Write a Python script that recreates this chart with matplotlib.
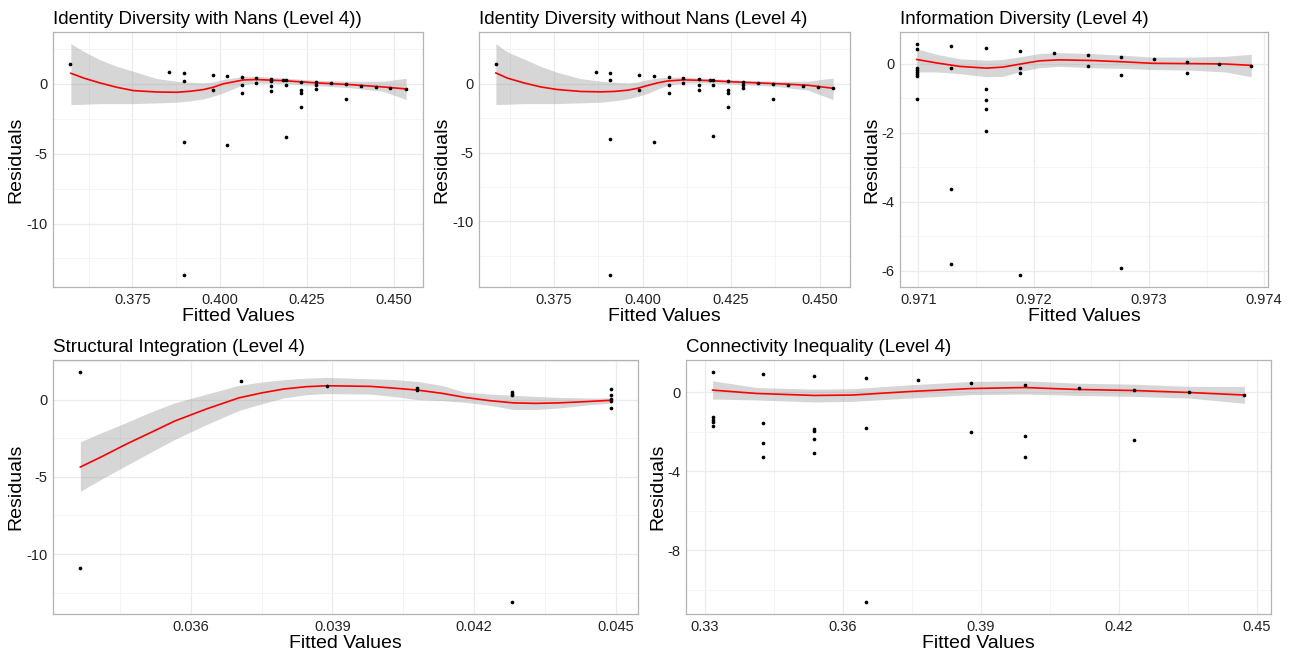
import numpy as np
import matplotlib
matplotlib.use("Agg")
import matplotlib.pyplot as plt

plt.rcParams['font.family'] = ['Liberation Sans', 'DejaVu Sans']

# ---- Identity Diversity with Nans (Level 4)) ----
id1_x = [0.3571, 0.3856, 0.3897, 0.3897, 0.3897, 0.3897, 0.3980, 0.3980, 0.4022, 0.4022,
         0.4064, 0.4064, 0.4064, 0.4106, 0.4106, 0.4149, 0.4149, 0.4149, 0.4149, 0.4182,
         0.4191, 0.4191, 0.4191, 0.4234, 0.4234, 0.4234, 0.4234, 0.4276, 0.4276, 0.4276,
         0.4319, 0.4363, 0.4363, 0.4406, 0.4448, 0.4490, 0.4535]
id1_y = [1.38, 0.81, 0.74, 0.21, -4.17, -13.71, 0.60, -0.45, 0.52, -4.38,
         0.45, -0.10, -0.67, 0.38, 0.05, 0.31, 0.21, -0.14, -0.50, 0.24,
         0.24, -0.10, -3.79, 0.14, -0.43, -0.67, -1.69, 0.12, -0.10, -0.36,
         0.05, -0.05, -1.12, -0.14, -0.21, -0.29, -0.36]
id1_fx = [0.3574, 0.3610, 0.3657, 0.3705, 0.3753, 0.3820, 0.3877, 0.3915, 0.3953, 0.3982,
          0.4010, 0.4039, 0.4068, 0.4106, 0.4182, 0.4278, 0.4373, 0.4469, 0.4535]
id1_fit = [0.74, 0.40, 0.05, -0.26, -0.50, -0.60, -0.62, -0.55, -0.43, -0.26,
           -0.02, 0.12, 0.26, 0.29, 0.21, 0.05, -0.07, -0.24, -0.38]
id1_hi = [2.86, 2.31, 1.71, 1.24, 0.88, 0.36, 0.17, 0.10, 0.05, 0.12,
          0.29, 0.40, 0.52, 0.52, 0.40, 0.24, 0.17, 0.17, 0.38]
id1_lo = [-1.50, -1.48, -1.43, -1.43, -1.43, -1.38, -1.33, -1.24, -1.10, -0.90,
          -0.67, -0.38, -0.07, 0.05, 0.00, -0.14, -0.29, -0.55, -1.14]

# ---- Identity Diversity without Nans (Level 4) ----
id2_x = [0.3586, 0.3868, 0.3908, 0.3908, 0.3908, 0.3908, 0.3990, 0.3990, 0.4032, 0.4032,
         0.4074, 0.4074, 0.4074, 0.4115, 0.4115, 0.4158, 0.4158, 0.4158, 0.4190, 0.4198,
         0.4198, 0.4198, 0.4241, 0.4241, 0.4241, 0.4241, 0.4284, 0.4284, 0.4284, 0.4325,
         0.4369, 0.4369, 0.4410, 0.4453, 0.4495, 0.4538]
id2_y = [1.40, 0.85, 0.77, 0.24, -4.01, -13.91, 0.63, -0.43, 0.53, -4.25,
         0.46, -0.07, -0.65, 0.39, 0.07, 0.34, -0.12, -0.48, 0.29, 0.29,
         -0.07, -3.82, 0.17, -0.43, -0.65, -1.69, 0.12, -0.10, -0.31, 0.07,
         -0.02, -1.09, -0.12, -0.19, -0.27, -0.34]
id2_fx = [0.3586, 0.3618, 0.3665, 0.3712, 0.3759, 0.3825, 0.3882, 0.3920, 0.3958, 0.3986,
          0.4014, 0.4042, 0.4071, 0.4118, 0.4184, 0.4278, 0.4373, 0.4467, 0.4538]
id2_fit = [0.77, 0.40, 0.05, -0.24, -0.43, -0.57, -0.60, -0.57, -0.48, -0.34,
           -0.14, 0.05, 0.19, 0.27, 0.22, 0.10, 0.00, -0.12, -0.34]
id2_hi = [2.90, 2.30, 1.79, 1.25, 0.82, 0.36, 0.17, 0.10, 0.05, 0.12,
          0.29, 0.40, 0.46, 0.48, 0.36, 0.24, 0.17, 0.17, 0.41]
id2_lo = [-1.52, -1.50, -1.45, -1.45, -1.45, -1.40, -1.35, -1.25, -1.11, -0.93,
          -0.72, -0.40, -0.12, 0.05, 0.05, -0.07, -0.19, -0.48, -1.16]

# ---- Information Diversity (Level 4) ----
inf_x = [0.97099, 0.97099, 0.97099, 0.97099, 0.97099, 0.97099, 0.97099, 0.97099,
         0.971287, 0.971287, 0.971287, 0.971287,
         0.971586, 0.971586, 0.971586, 0.971586, 0.971586,
         0.971885, 0.971885, 0.971885, 0.971885,
         0.972178, 0.972471, 0.972471, 0.972761, 0.972761, 0.972761,
         0.973043, 0.973328, 0.973328, 0.973606, 0.973888]
inf_y = [0.58, 0.43, -0.12, -0.17, -0.23, -0.29, -0.35, -1.03,
         0.51, -0.12, -3.63, -5.80,
         0.44, -0.74, -1.04, -1.32, -1.95,
         0.37, -0.14, -0.27, -6.13,
         0.31, 0.24, -0.07, 0.18, -0.34, -5.93,
         0.12, 0.05, -0.27, 0.00, -0.07]
inf_fx = [0.970986, 0.971158, 0.971359, 0.971589, 0.971733, 0.971905, 0.972049,
          0.972221, 0.972509, 0.972796, 0.973026, 0.973371, 0.973658, 0.973888]
inf_fit = [0.12, 0.02, -0.08, -0.13, -0.10, 0.00, 0.08, 0.11, 0.09, 0.05, 0.01, 0.00, -0.01, -0.05]
inf_hi = [0.43, 0.27, 0.14, 0.10, 0.12, 0.21, 0.29, 0.32, 0.29, 0.24, 0.19, 0.19, 0.21, 0.27]
inf_lo = [-0.24, -0.24, -0.29, -0.38, -0.37, -0.21, -0.12, -0.08, -0.12, -0.14, -0.17, -0.19, -0.24, -0.38]

# ---- Structural Integration (Level 4) ----
str_x = [0.033646, 0.033646, 0.037061, 0.038888, 0.040803, 0.040803,
         0.042814, 0.042814, 0.042814, 0.042814,
         0.044912, 0.044912, 0.044912, 0.044912, 0.044912]
str_y = [1.82, -10.90, 1.20, 0.90, 0.75, 0.62,
         0.49, 0.39, 0.28, -13.13,
         0.71, 0.32, 0.04, -0.06, -0.54]
str_fx = [0.033662, 0.034141, 0.034620, 0.035138, 0.035657, 0.036335, 0.037013, 0.037492,
          0.037971, 0.038449, 0.038888, 0.039806, 0.040285, 0.040803, 0.041322, 0.041801,
          0.042319, 0.042838, 0.043316, 0.043795, 0.044354, 0.044912]
str_fit = [-4.36, -3.65, -2.90, -2.15, -1.39, -0.60, 0.11, 0.43, 0.69, 0.84, 0.90,
           0.86, 0.75, 0.62, 0.41, 0.15, -0.06, -0.21, -0.24, -0.21, -0.13, -0.04]
str_hi = [-2.73, -2.10, -1.50, -0.82, -0.21, 0.36, 0.92, 1.14, 1.29, 1.39, 1.44,
          1.35, 1.31, 1.18, 0.92, 0.49, 0.36, 0.28, 0.21, 0.15, 0.11, 0.11]
str_lo = [-5.94, -5.09, -4.29, -3.43, -2.58, -1.61, -0.71, -0.28, 0.11, 0.32, 0.39,
          0.36, 0.21, 0.00, -0.06, -0.17, -0.36, -0.64, -0.64, -0.54, -0.36, -0.21]

# ---- Connectivity Inequality (Level 4) ----
con_x = [0.33167, 0.33167, 0.33167, 0.33167, 0.33167,
         0.34267, 0.34267, 0.34267, 0.34267,
         0.35367, 0.35367, 0.35367, 0.35367, 0.35367,
         0.36492, 0.36492, 0.36492,
         0.37633, 0.38792, 0.38792, 0.39950, 0.39950, 0.39950,
         0.41125, 0.42317, 0.42317, 0.43517, 0.44725]
con_y = [1.04, -1.28, -1.39, -1.51, -1.74,
         0.92, -1.58, -2.58, -3.27,
         0.81, -1.86, -1.95, -2.35, -3.09,
         0.70, -1.81, -10.65,
         0.59, 0.47, -2.01, 0.34, -2.20, -3.27,
         0.22, 0.10, -2.42, -0.02, -0.15]
con_fx = [0.33167, 0.34125, 0.35375, 0.36208, 0.37458, 0.38792, 0.39958,
          0.41125, 0.42317, 0.43517, 0.44725]
con_fit = [0.10, -0.07, -0.17, -0.15, 0.03, 0.18, 0.23, 0.13, 0.08, -0.02, -0.15]
con_hi = [0.57, 0.23, 0.15, 0.17, 0.37, 0.54, 0.57, 0.45, 0.40, 0.29, 0.29]
con_lo = [-0.35, -0.40, -0.50, -0.47, -0.30, -0.13, -0.10, -0.17, -0.22, -0.30, -0.57]

W, H = 1296, 659


def panel(box, title, x, y, fx, fit, lo, hi, xticks, xlabels, yticks, ylabels):
    left, top, right, bottom = box
    ax = fig.add_axes([left / W, 1 - bottom / H, (right - left) / W, (bottom - top) / H])

    # ggplot-style 5% expansion
    allx = list(x) + list(fx)
    ally = list(y) + list(lo) + list(hi)
    dx = (max(allx) - min(allx)) * 0.05
    dy = (max(ally) - min(ally)) * 0.05

    ax.fill_between(fx, lo, hi, color='#999999', alpha=0.4, linewidth=0, zorder=2)
    ax.plot(fx, fit, color='red', lw=1.2, zorder=3, solid_joinstyle='round')
    ax.scatter(x, y, s=7, color='black', linewidths=0, zorder=4)

    ax.set_xticks(xticks)
    ax.set_xticklabels(xlabels)
    ax.set_yticks(yticks)
    ax.set_yticklabels(ylabels)
    xs = xticks[1] - xticks[0]
    ys = yticks[1] - yticks[0]
    ax.set_xticks([t - xs / 2 for t in xticks] + [xticks[-1] + xs / 2], minor=True)
    ax.set_yticks([t - ys / 2 for t in yticks] + [yticks[-1] + ys / 2], minor=True)
    ax.set_xlim(min(allx) - dx, max(allx) + dx)
    ax.set_ylim(min(ally) - dy, max(ally) + dy)

    ax.grid(which='major', color='#EBEBEB', lw=0.9, zorder=0)
    ax.grid(which='minor', color='#F3F3F3', lw=0.6, zorder=0)
    ax.set_axisbelow(True)
    ax.tick_params(which='both', length=0, labelsize=10.5, colors='#222222', pad=4)
    for s in ax.spines.values():
        s.set_color('#B3B3B3')
        s.set_linewidth(0.9)

    ax.set_title(title, loc='left', fontsize=13.5, pad=6)
    ax.set_xlabel('Fitted Values', fontsize=14, labelpad=1)
    ax.set_ylabel('Residuals', fontsize=14, labelpad=1)
    return ax


fig = plt.figure(figsize=(W / 100, H / 100), dpi=100)

panel((53, 32, 423, 287), 'Identity Diversity with Nans (Level 4))',
      id1_x, id1_y, id1_fx, id1_fit, id1_lo, id1_hi,
      [0.375, 0.400, 0.425, 0.450], ['0.375', '0.400', '0.425', '0.450'],
      [-10, -5, 0], ['-10', '-5', '0'])

panel((479, 32, 850, 287), 'Identity Diversity without Nans (Level 4)',
      id2_x, id2_y, id2_fx, id2_fit, id2_lo, id2_hi,
      [0.375, 0.400, 0.425, 0.450], ['0.375', '0.400', '0.425', '0.450'],
      [-10, -5, 0], ['-10', '-5', '0'])

panel((900, 32, 1268, 287), 'Information Diversity (Level 4)',
      inf_x, inf_y, inf_fx, inf_fit, inf_lo, inf_hi,
      [0.971, 0.972, 0.973, 0.974], ['0.971', '0.972', '0.973', '0.974'],
      [-6, -4, -2, 0], ['-6', '-4', '-2', '0'])

panel((53, 360, 638, 614), 'Structural Integration (Level 4)',
      str_x, str_y, str_fx, str_fit, str_lo, str_hi,
      [0.036, 0.039, 0.042, 0.045], ['0.036', '0.039', '0.042', '0.045'],
      [-10, -5, 0], ['-10', '-5', '0'])

panel((686, 360, 1271, 614), 'Connectivity Inequality (Level 4)',
      con_x, con_y, con_fx, con_fit, con_lo, con_hi,
      [0.33, 0.36, 0.39, 0.42, 0.45], ['0.33', '0.36', '0.39', '0.42', '0.45'],
      [-8, -4, 0], ['-8', '-4', '0'])

fig.savefig('out.png', dpi=100)
